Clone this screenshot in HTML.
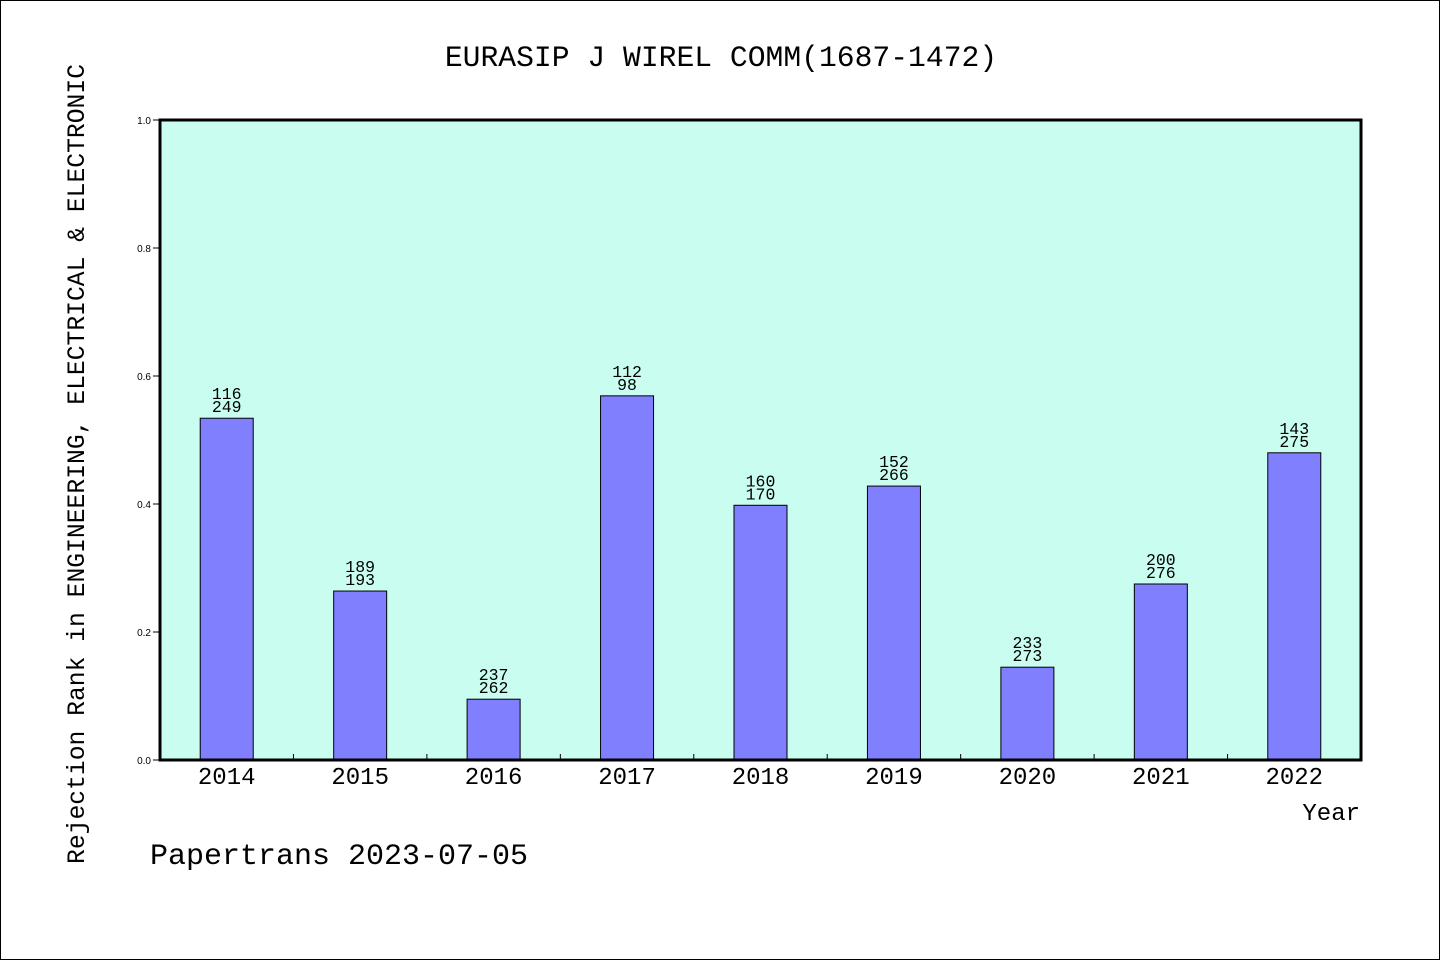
<!DOCTYPE html>
<html><head><meta charset="utf-8"><style>
html,body{margin:0;padding:0;background:#fff}
svg{display:block}
text{font-family:"Liberation Mono",monospace;fill:#000}
text.s{font-family:"Liberation Sans",sans-serif}
</style></head><body>
<svg id="chart" width="1440" height="960">
<rect x="0.5" y="0.5" width="1439" height="959" fill="#fff" stroke="#000"/>
<text x="721" y="66" font-size="29.7" text-anchor="middle">EURASIP J WIREL COMM(1687-1472)</text>
<rect x="160" y="120" width="1201" height="640" fill="#c8fdf0"/>
<g id="yaxis"></g>
<g id="bars"></g>
<rect x="160" y="120" width="1201" height="640" fill="none" stroke="#000" stroke-width="3"/>
<g id="xaxis"></g>
<text x="1360" y="820" font-size="24" text-anchor="end">Year</text>
<text transform="translate(84,464) rotate(-90)" font-size="24.7" text-anchor="middle">Rejection Rank in ENGINEERING, ELECTRICAL &amp; ELECTRONIC</text>
<text x="150" y="864" font-size="30">Papertrans 2023-07-05</text>
</svg>
<script>
const categories=["2014","2015","2016","2017","2018","2019","2020","2021","2022"];
const values=[0.534,0.264,0.095,0.569,0.398,0.428,0.145,0.275,0.48];
const topLabels=["116","189","237","112","160","152","233","200","143"];
const bottomLabels=["249","193","262","98","170","266","273","276","275"];
const yTicks=[0,0.2,0.4,0.6,0.8,1.0];
const yTickLabels=["0.0","0.2","0.4","0.6","0.8","1.0"];
const NS="http://www.w3.org/2000/svg";
const X0=160,X1=1361,Y0=760,Y1=120;
const bw=(X1-X0)/categories.length;
const yS=v=>Y0-(v)*(Y0-Y1);
const xC=i=>X0+bw*(i+0.5);
function mk(tag,attrs,parent,txt){const e=document.createElementNS(NS,tag);for(const k in attrs)e.setAttribute(k,attrs[k]);if(txt!==undefined)e.textContent=txt;parent.appendChild(e);return e;}
const ya=document.getElementById('yaxis'),xa=document.getElementById('xaxis'),bg=document.getElementById('bars');
yTicks.forEach((t,i)=>{
 const l=mk('line',{x1:153,x2:160,y1:yS(t),y2:yS(t),stroke:'#000'},ya);
 
 
 const tx=mk('text',{x:151,y:yS(t)+4,'font-size':10,'text-anchor':'end','class':'s'},ya,yTickLabels[i]);
 
 
});
categories.forEach((c,i)=>{
 const x=xC(i),y=yS(values[i]);
 const r=mk('rect',{x:x-26.5,y:y,width:53,height:Y0-y,fill:'#8080ff',stroke:'#000','stroke-width':1},bg);
 
 
 const t1=mk('text',{x:x,y:y-19,'font-size':16.5,'text-anchor':'middle'},bg,topLabels[i]);
 
 
 const t2=mk('text',{x:x,y:y-6,'font-size':16.5,'text-anchor':'middle'},bg,bottomLabels[i]);
 
 
 const xl=mk('text',{x:x,y:784,'font-size':24,'text-anchor':'middle'},xa,c);
 
 
 if(i>0){const tk=mk('line',{x1:X0+bw*i,x2:X0+bw*i,y1:Y0-6,y2:Y0,stroke:'#000'},xa);
 
 }
});
</script>
</body></html>
